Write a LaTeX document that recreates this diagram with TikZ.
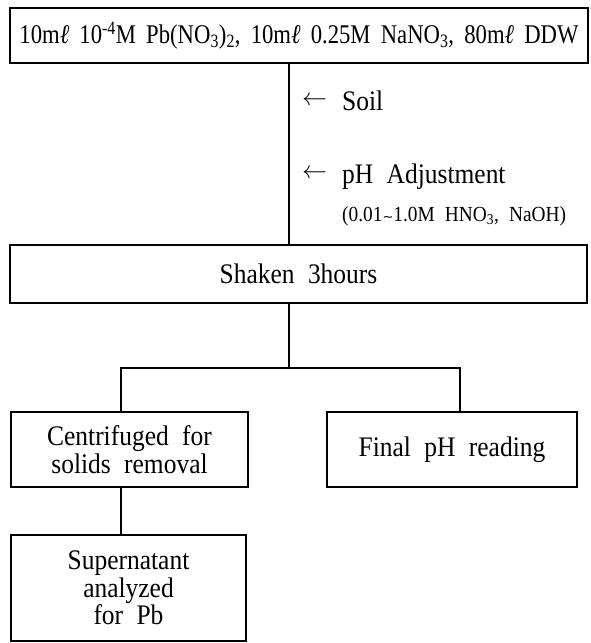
\documentclass[tikz,border=0pt]{standalone}
\usepackage{fontspec}
\setmainfont{Liberation Serif}[FakeStretch=0.9,WordSpace={2.1,1,1}]
\newfontfamily\topfont{Liberation Serif}[FakeStretch=0.84,WordSpace={1.8,1,1}]
\newfontfamily\symfont{DejaVu Sans}
\begin{document}
\begin{tikzpicture}[x=1pt,y=-1pt,
  box/.style={draw,line width=1.6pt,inner sep=0pt,align=center,font=\fontsize{28.3}{27.5}\selectfont},
  conn/.style={line width=1.6pt},
  lbl/.style={anchor=base west,inner sep=0pt,font=\fontsize{28.3}{29}\selectfont},
  arr/.style={anchor=west,inner sep=0pt,font=\fontsize{24}{26}\selectfont}]
\useasboundingbox (0,0) rectangle (591,643);
\node[box,minimum width=578pt,minimum height=55pt,font=\topfont\fontsize{27}{29}\selectfont] (top) at (299,35.5) {10m\textit{ℓ} 10\textsuperscript{-4}M Pb(NO\textsubscript{3})\textsubscript{2}, 10m\textit{ℓ} 0.25M NaNO\textsubscript{3}, 80m\textit{ℓ} DDW};
\node[box,minimum width=577pt,minimum height=58pt] (shake) at (298.5,274) {Shaken 3hours};
\node[box,minimum width=237pt,minimum height=75pt] (cent) at (129.5,449.5) {Centrifuged for\\solids removal};
\node[box,minimum width=250pt,minimum height=75pt] (final) at (452,449.5) {Final pH reading};
\node[box,minimum width=235pt,minimum height=106pt] (sup) at (128.5,588) {Supernatant\\analyzed\\for Pb};
\draw[conn] (top.south -| 289,0) -- (shake.north -| 289,0);
\coordinate (split) at (289,368);
\draw[conn] (shake.south -| split) -- (split);
\draw[conn] (cent.north -| 121,0) |- (split) -| (final.north -| 460,0);
\draw[conn] (cent.south -| 121,0) -- (sup.north -| 121,0);
\node[arr] (a1) at (302,101) {$\leftarrow$};
\node[lbl] (soil) at (342,110) {Soil};
\node[arr] (a2) at (302,174) {$\leftarrow$};
\node[lbl] (ph) at (342,183) {pH Adjustment};
\node[lbl,font=\fontsize{21.5}{24}\selectfont] (range) at (342,221) {(0.01{\symfont\fontsize{13}{16}\selectfont\char"223C}1.0M HNO\textsubscript{3}, NaOH)};
\end{tikzpicture}
\end{document}
